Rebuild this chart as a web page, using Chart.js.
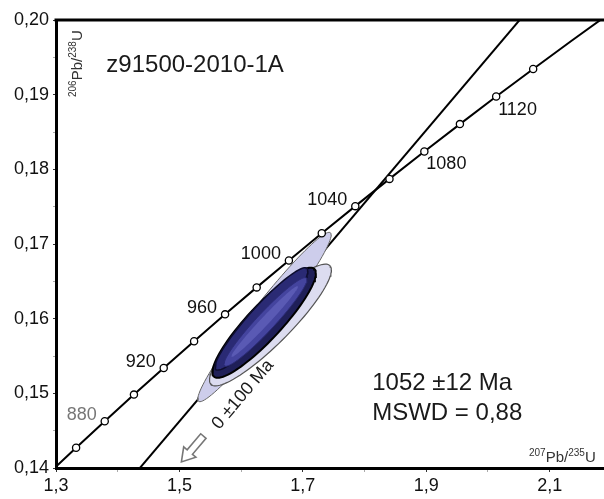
<!DOCTYPE html>
<html>
<head>
<meta charset="utf-8">
<script src="https://cdn.jsdelivr.net/npm/chart.js@4.4.1/dist/chart.umd.min.js"></script>
<style>
  html, body { margin: 0; padding: 0; background: #fff; }
  #wrap { width: 604px; height: 499px; }
</style>
</head>
<body>
<div id="wrap"><canvas id="concordia"></canvas></div>
<script>
// concordia curve, ages in Ma with 207Pb/235U and 206Pb/238U
const concAges = [840, 860, 880, 900, 920, 940, 960, 980, 1000, 1020, 1040, 1060, 1080, 1100, 1120, 1140, 1160, 1180];
const concX = [1.28706, 1.33257, 1.37897, 1.42630, 1.47456, 1.52378, 1.57398, 1.62519, 1.67741, 1.73067, 1.78499, 1.84039, 1.89689, 1.95452, 2.01329, 2.07322, 2.13436, 2.19669];
const concY = [0.13918, 0.14272, 0.14627, 0.14983, 0.15340, 0.15698, 0.16058, 0.16419, 0.16780, 0.17143, 0.17507, 0.17872, 0.18239, 0.18606, 0.18975, 0.19344, 0.19715, 0.20087];
const markerAges = [860, 880, 900, 920, 940, 960, 980, 1000, 1020, 1040, 1060, 1080, 1100, 1120, 1140];
const ageLabels = [880, 920, 960, 1000, 1040, 1080, 1120];

// discordia, lower intercept 0 Ma, upper 1052 Ma
const discX = [1.40, 2.10];
const discY = [0.13650, 0.20475];

// error ellipses: centre, half extent on each axis, correlation
const ellX   = [1.6378, 1.6475, 1.63728, 1.6329, 1.63939, 1.6380];
const ellY   = [0.16022, 0.15915, 0.15945, 0.15996, 0.15956, 0.15962];
const ellEx  = [0.1081, 0.09875, 0.08385, 0.07519, 0.06721, 0.0540];
const ellEy  = [0.011342, 0.008156, 0.007374, 0.006853, 0.005934, 0.00475];
const ellRho = [0.9693, 0.9027, 0.8984, 0.9388, 0.9557, 0.985];

// tick labels
const xTickValues = [1.3, 1.5, 1.7, 1.9, 2.1];
const xTickLabels = ['1,3', '1,5', '1,7', '1,9', '2,1'];
const xMinorTicks = [1.4, 1.6, 1.8, 2.0];
const yTickValues = [0.14, 0.15, 0.16, 0.17, 0.18, 0.19, 0.20];
const yTickLabels = ['0,14', '0,15', '0,16', '0,17', '0,18', '0,19', '0,20'];
const yMinorTicks = [0.145, 0.155, 0.165, 0.175, 0.185, 0.195];

const FONT = "'Liberation Sans', Arial, sans-serif";
const ellFill   = ['#cdcdeb', '#dcdcf0', '#1f1f58', '#2a2a74', '#44449e', '#5a5ab4'];
const ellStroke = ['#666666', '#555555', '#000000', '#0d0d2e', '#2c2c78', 'rgba(0,0,0,0)'];
const ellWidth  = [1, 1.2, 2, 1.5, 1, 0];

Chart.defaults.font.family = FONT;

function ellipsePoints(i) {
  const pts = [];
  const r = ellRho[i];
  const s = Math.sqrt(1 - r * r);
  for (let k = 0; k <= 96; k++) {
    const t = 2 * Math.PI * k / 96;
    pts.push({
      x: ellX[i] + ellEx[i] * Math.cos(t),
      y: ellY[i] + ellEy[i] * (r * Math.cos(t) + s * Math.sin(t))
    });
  }
  return pts;
}

function concPoint(age) {
  const i = concAges.indexOf(age);
  return { x: concX[i], y: concY[i] };
}

function isotope(ctx, parts, x, y) {
  // parts: [text, superscript?]
  let cx = x;
  parts.forEach(([txt, sup]) => {
    ctx.font = sup ? '10px ' + FONT : '15px ' + FONT;
    ctx.fillText(txt, cx, sup ? y - 6 : y);
    cx += ctx.measureText(txt).width;
  });
}

const annotations = {
  id: 'annotations',
  afterDraw(chart) {
    const { ctx, chartArea, scales: { x, y } } = chart;
    ctx.save();

    // top frame
    ctx.strokeStyle = '#000';
    ctx.lineWidth = 3;
    ctx.beginPath();
    ctx.moveTo(chartArea.left - 1.5, chartArea.top);
    ctx.lineTo(chartArea.right, chartArea.top);
    ctx.stroke();

    // age labels on the concordia
    ctx.font = '18px ' + FONT;
    ctx.textBaseline = 'middle';
    ageLabels.forEach(age => {
      const p = concPoint(age);
      const px = x.getPixelForValue(p.x), py = y.getPixelForValue(p.y);
      ctx.fillStyle = age === 880 ? '#777' : '#111';
      if (age < 1060) {
        ctx.textAlign = 'right';
        ctx.fillText(String(age), px - 8, py - 6);
      } else {
        ctx.textAlign = 'left';
        ctx.fillText(String(age), px + 2, py + 13);
      }
    });

    // sample name and result
    ctx.textAlign = 'left';
    ctx.fillStyle = '#1a1a1a';
    ctx.font = '24px ' + FONT;
    ctx.fillText('z91500-2010-1A', x.getPixelForValue(1.3816), y.getPixelForValue(0.19397));
    ctx.fillText('1052 ±12 Ma', x.getPixelForValue(1.8124), y.getPixelForValue(0.15139));
    ctx.fillText('MSWD = 0,88', x.getPixelForValue(1.8124), y.getPixelForValue(0.14737));

    // direction of the discordia in pixels
    const d0x = x.getPixelForValue(discX[0]), d0y = y.getPixelForValue(discY[0]);
    const d1x = x.getPixelForValue(discX[1]), d1y = y.getPixelForValue(discY[1]);
    const ang = Math.atan2(d1y - d0y, d1x - d0x);

    // lower intercept text
    ctx.save();
    ctx.translate(x.getPixelForValue(1.5583), y.getPixelForValue(0.14549));
    ctx.rotate(ang);
    ctx.font = '18px ' + FONT;
    ctx.fillStyle = '#1a1a1a';
    ctx.textBaseline = 'middle';
    ctx.fillText('0 ±100 Ma', 0, 0);
    ctx.restore();

    // hollow arrow pointing to the lower intercept
    ctx.save();
    ctx.translate(x.getPixelForValue(1.5032), y.getPixelForValue(0.14081));
    ctx.rotate(ang);
    ctx.beginPath();
    ctx.moveTo(0, 0);
    ctx.lineTo(13, -8);
    ctx.lineTo(13, -3.5);
    ctx.lineTo(34, -3.5);
    ctx.lineTo(34, 3.5);
    ctx.lineTo(13, 3.5);
    ctx.lineTo(13, 8);
    ctx.closePath();
    ctx.fillStyle = '#fff';
    ctx.fill();
    ctx.strokeStyle = '#777';
    ctx.lineWidth = 1.6;
    ctx.stroke();
    ctx.restore();

    // axis titles
    ctx.fillStyle = '#333';
    ctx.textBaseline = 'alphabetic';
    ctx.textAlign = 'left';
    const isoY = [['206', true], ['Pb/', false], ['238', true], ['U', false]];
    const isoX = [['207', true], ['Pb/', false], ['235', true], ['U', false]];
    ctx.save();
    ctx.translate(chartArea.left + 26, chartArea.top + 77);
    ctx.rotate(-Math.PI / 2);
    isotope(ctx, isoY, 0, 0);
    ctx.restore();
    isotope(ctx, isoX, chartArea.right - 75, chartArea.bottom - 6);

    ctx.restore();
  }
};

const datasets = [];
datasets.push({
  data: markerAges.map(concPoint),
  showLine: false,
  pointRadius: 3.6,
  pointBackgroundColor: '#fff',
  pointBorderColor: '#000',
  pointBorderWidth: 1.3,
  order: 0
});
datasets.push({
  data: concAges.map(concPoint),
  showLine: true,
  borderColor: '#000',
  borderWidth: 2,
  pointRadius: 0,
  order: 1
});
ellX.forEach((_, i) => {
  datasets.push({
    data: ellipsePoints(i),
    showLine: true,
    fill: 'shape',
    backgroundColor: ellFill[i],
    borderColor: ellStroke[i],
    borderWidth: ellWidth[i],
    pointRadius: 0,
    order: 10 - i
  });
});
datasets.push({
  data: discX.map((v, i) => ({ x: v, y: discY[i] })),
  showLine: true,
  borderColor: '#000',
  borderWidth: 2,
  pointRadius: 0,
  order: 20
});

function tickColor(values) {
  return ctx => (ctx.tick && values.some(v => Math.abs(v - ctx.tick.value) < 1e-9)) ? '#333' : '#aaa';
}

new Chart(document.getElementById('concordia'), {
  type: 'scatter',
  data: { datasets },
  options: {
    responsive: true,
    maintainAspectRatio: false,
    animation: false,
    layout: { autoPadding: false, padding: { top: 20, right: 0, bottom: 0, left: 0 } },
    plugins: { legend: { display: false }, tooltip: { enabled: false } },
    scales: {
      x: {
        type: 'linear',
        min: 1.3,
        max: 2.188,
        afterBuildTicks(scale) {
          scale.ticks = [...xTickValues, ...xMinorTicks].sort((a, b) => a - b).map(v => ({ value: v }));
        },
        afterFit(scale) {
          scale.height = 31;
          scale.paddingLeft = 0;
          scale.paddingRight = 0;
        },
        grid: { drawOnChartArea: false, tickLength: 4, color: tickColor(xTickValues) },
        border: { display: true, width: 3, color: '#000' },
        ticks: {
          autoSkip: false,
          maxRotation: 0,
          padding: 3,
          color: '#111',
          font: { size: 18 },
          callback(value) {
            const i = xTickValues.findIndex(v => Math.abs(v - value) < 1e-9);
            return i >= 0 ? xTickLabels[i] : '';
          }
        }
      },
      y: {
        type: 'linear',
        min: 0.14,
        max: 0.20,
        afterBuildTicks(scale) {
          scale.ticks = [...yTickValues, ...yMinorTicks].sort((a, b) => a - b).map(v => ({ value: v }));
        },
        afterFit(scale) { scale.width = 56; },
        grid: { drawOnChartArea: false, tickLength: 3, color: tickColor(yTickValues) },
        border: { display: true, width: 3, color: '#000' },
        ticks: {
          autoSkip: false,
          padding: 4,
          color: '#111',
          font: { size: 18 },
          callback(value) {
            const i = yTickValues.findIndex(v => Math.abs(v - value) < 1e-9);
            return i >= 0 ? yTickLabels[i] : '';
          }
        }
      }
    }
  },
  plugins: [annotations]
});
</script>
</body>
</html>
